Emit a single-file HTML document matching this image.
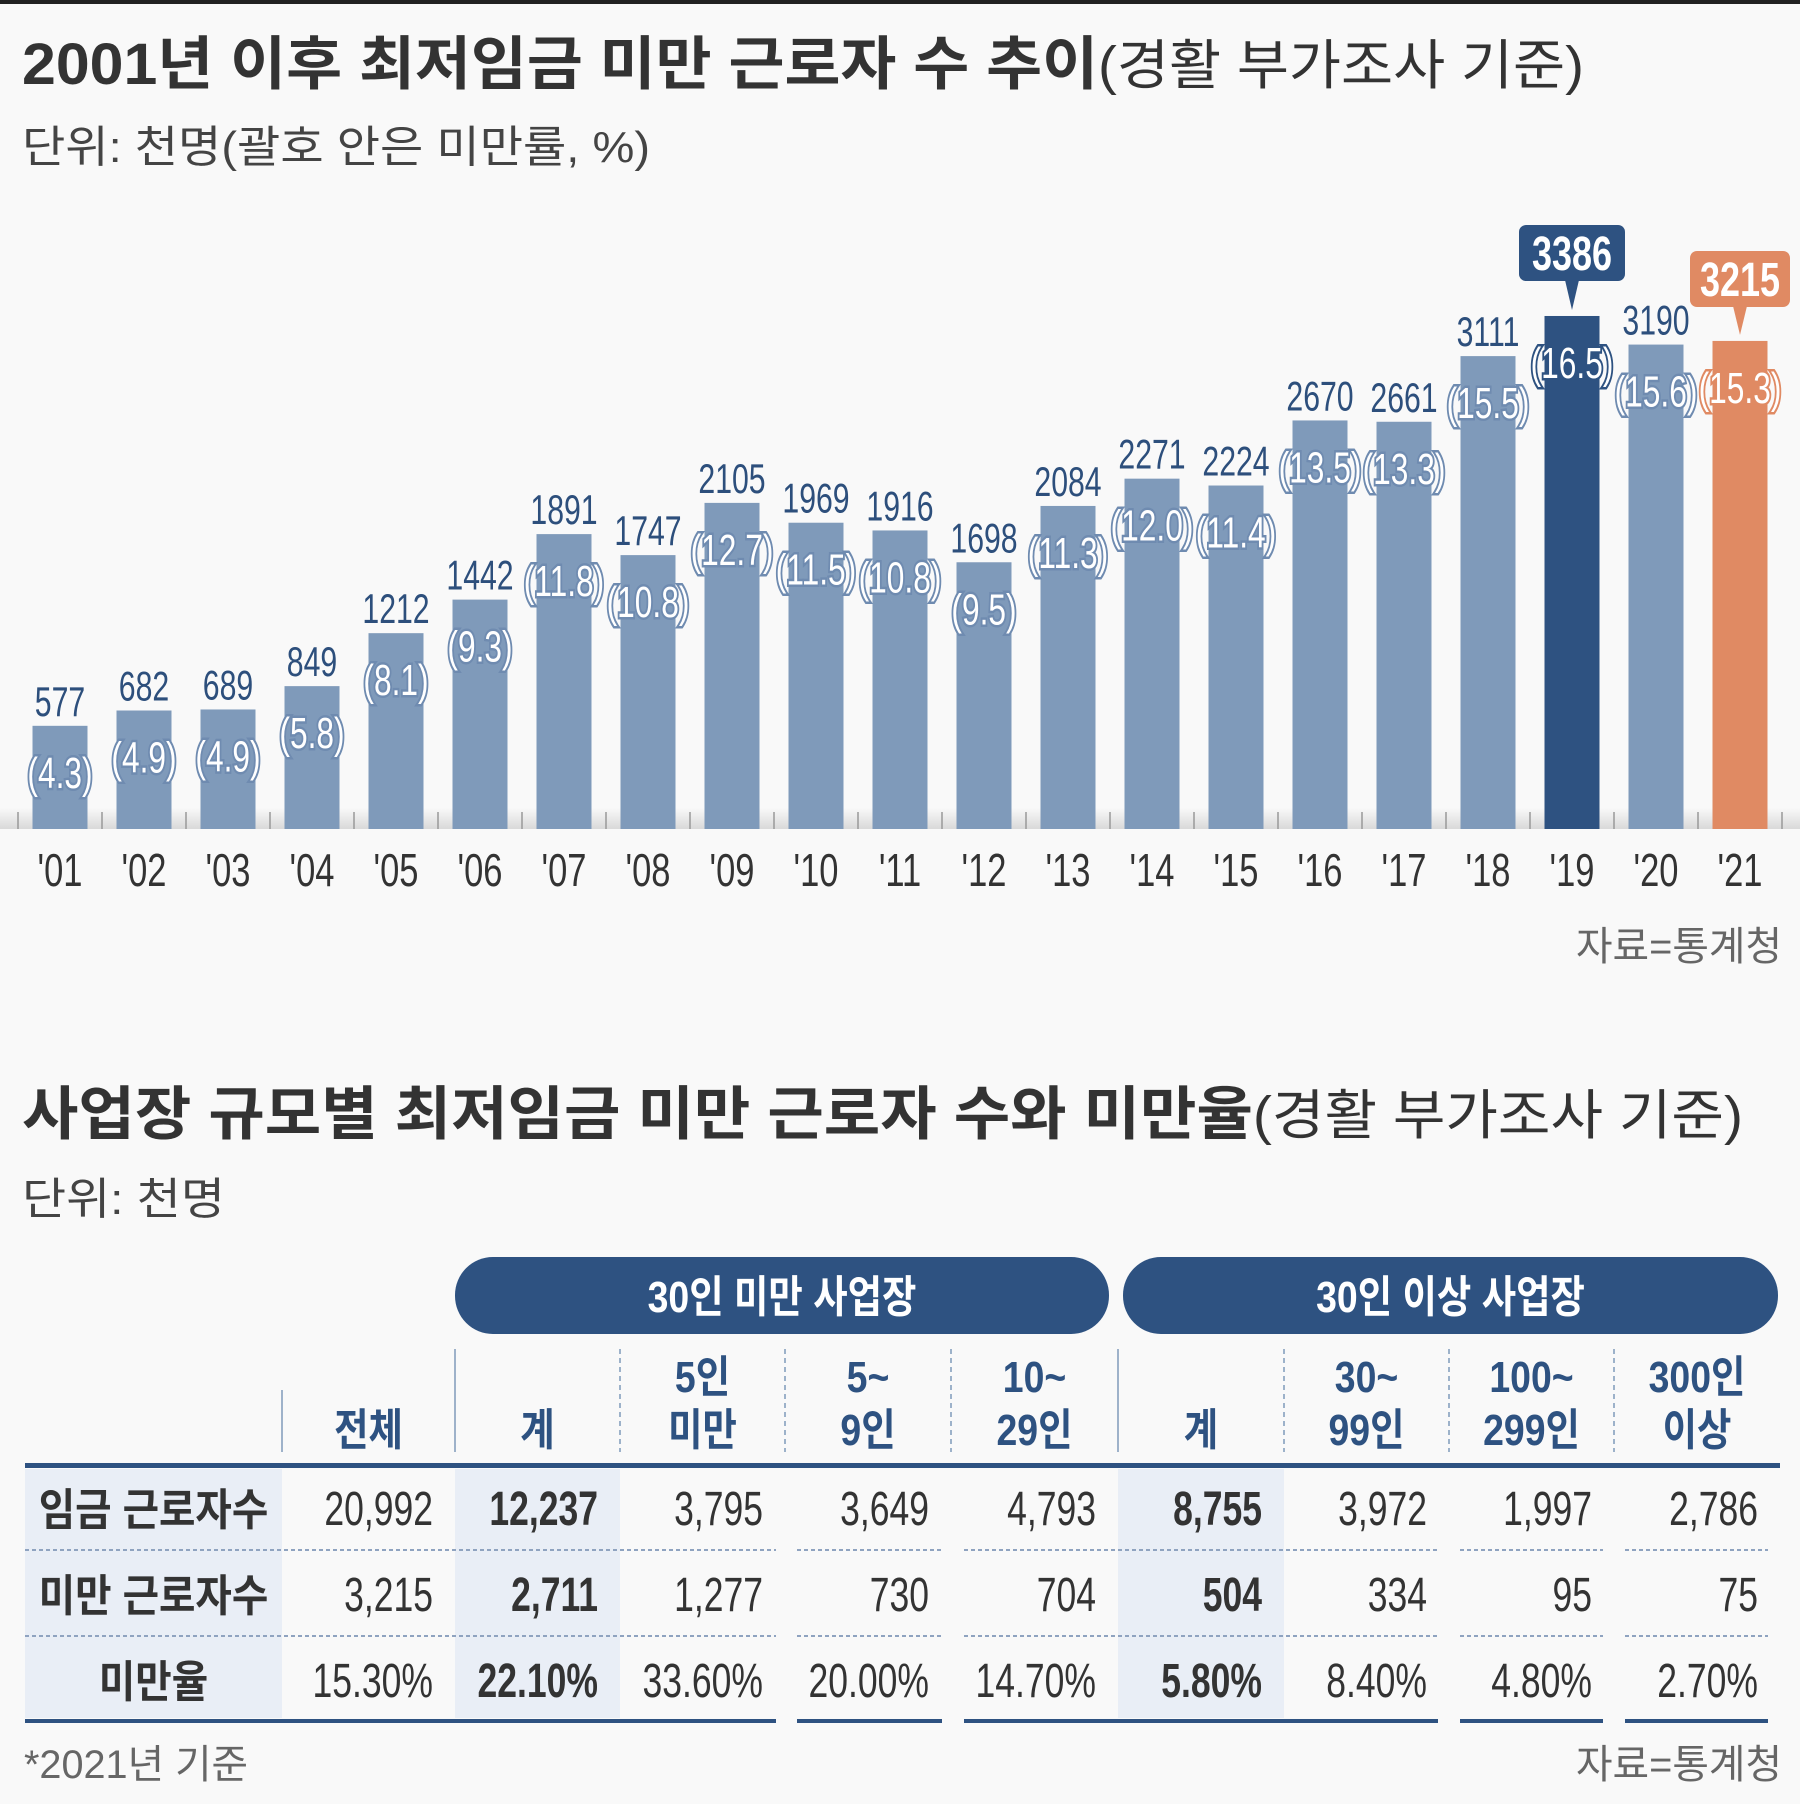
<!DOCTYPE html>
<html><head><meta charset="utf-8">
<style>
html,body{margin:0;padding:0;background:#f9f9f9;}
svg{display:block;}
.kr{font-family:"Liberation Sans","Noto Sans CJK KR",sans-serif;}
.num{font-family:"Liberation Sans","Noto Sans CJK KR",sans-serif;}
</style></head>
<body>
<svg id="chart" width="1800" height="1804" viewBox="0 0 1800 1804" xmlns="http://www.w3.org/2000/svg">
<rect x="0" y="0" width="1800" height="1804" fill="#f9f9f9"/>
<rect x="0" y="0" width="1800" height="4" fill="#222"/>
<text x="22" y="84" class="kr" font-size="58" fill="#333" textLength="1562" lengthAdjust="spacingAndGlyphs"><tspan font-weight="bold">2001년 이후 최저임금 미만 근로자 수 추이</tspan><tspan font-size="54">(경활 부가조사 기준)</tspan></text>
<text x="22" y="162" class="kr" font-size="44" fill="#444" textLength="628" lengthAdjust="spacingAndGlyphs">단위: 천명(괄호 안은 미만률, %)</text>
<defs><linearGradient id="grd" x1="0" y1="0" x2="0" y2="1"><stop offset="0" stop-color="#f9f9f9"/><stop offset="1" stop-color="#d9d9d9"/></linearGradient></defs>
<rect x="0" y="808" width="1800" height="21" fill="url(#grd)"/>
<g id="bars"></g>
<text x="1782" y="960" text-anchor="end" class="kr" font-size="40" fill="#666" textLength="206" lengthAdjust="spacingAndGlyphs">자료=통계청</text>

<text x="22" y="1134" class="kr" font-size="58" fill="#333" textLength="1721" lengthAdjust="spacingAndGlyphs"><tspan font-weight="bold">사업장 규모별 최저임금 미만 근로자 수와 미만율</tspan><tspan font-size="54">(경활 부가조사 기준)</tspan></text>
<text x="22" y="1214" class="kr" font-size="44" fill="#444" textLength="203" lengthAdjust="spacingAndGlyphs">단위: 천명</text>
<g id="table"></g>
<text x="24" y="1778" class="kr" font-size="40" fill="#666" textLength="224" lengthAdjust="spacingAndGlyphs">*2021년 기준</text>
<text x="1782" y="1778" text-anchor="end" class="kr" font-size="40" fill="#666" textLength="206" lengthAdjust="spacingAndGlyphs">자료=통계청</text>
</svg>
<script>
const years = ["'01","'02","'03","'04","'05","'06","'07","'08","'09","'10","'11","'12","'13","'14","'15","'16","'17","'18","'19","'20","'21"];
const counts = [577,682,689,849,1212,1442,1891,1747,2105,1969,1916,1698,2084,2271,2224,2670,2661,3111,3386,3190,3215];
const rates = ["4.3","4.9","4.9","5.8","8.1","9.3","11.8","10.8","12.7","11.5","10.8","9.5","11.3","12.0","11.4","13.5","13.3","15.5","16.5","15.6","15.3"];

const NS="http://www.w3.org/2000/svg";
function mk(tag,attrs,parent){const e=document.createElementNS(NS,tag);for(const k in attrs)e.setAttribute(k,attrs[k]);parent.appendChild(e);return e;}
function ntext(parent,x,y,sx,attrs){attrs.x=0;attrs.y=0;attrs.transform=`translate(${x},${y}) scale(${sx},1)`;return mk('text',attrs,parent);}
const base=829, x0=60, step=84, bw=55;
const xPos=i=>x0+i*step;
const hOf=v=>19+v*0.1459;
const g=document.getElementById('bars');
for(let i=0;i<=years.length;i++){
  const t=mk('line',{x1:xPos(i)-step/2,x2:xPos(i)-step/2,y1:812,y2:829,stroke:'#999','stroke-width':1.5},g);
  
  
}
years.forEach((y,i)=>{
  const v=counts[i], h=hOf(v), top=base-h, cx=xPos(i);
  const special = i===18 ? 'hi' : (i===20 ? 'last' : '');
  const col = i===18 ? '#2e5281' : (i===20 ? '#e08a63' : '#7f9aba');
  const r=mk('rect',{x:cx-bw/2,y:top,width:bw,height:h,fill:col},g);
  
  
  const pt=ntext(g,cx,top+62,0.72,{'text-anchor':'middle','font-size':44,fill:'#fff',stroke:col==='#7f9aba'?'#6f8bb0':col,'stroke-width':5,'paint-order':'stroke',class:'num'});
  pt.textContent='('+rates[i]+')';
  
  
  if(special){
    const bc = col;
    const bx = special==='hi'? cx-53 : cx-50, by = special==='hi'? 225: 251, bwid= special==='hi'?106:100, bh=56;
    const b=mk('rect',{x:bx,y:by,width:bwid,height:bh,rx:7,fill:bc},g);
    
    
    const p=mk('polygon',{points:`${cx-7},${by+bh-1} ${cx+7},${by+bh-1} ${cx},${top-6}`,fill:bc},g);
    
    
    const ct=ntext(g,cx,by+45,0.75,{'text-anchor':'middle','font-size':48,'font-weight':'bold',fill:'#fff',class:'num'});
    ct.textContent=v;
    
    
  } else {
    const vt=ntext(g,cx,top-10,0.72,{'text-anchor':'middle','font-size':42,fill:'#2d4f7c',class:'num'});
    vt.textContent=v;
    
    
  }
  const xl=ntext(g,cx,886,0.75,{'text-anchor':'middle','font-size':46,fill:'#333',class:'num'});
  xl.textContent=y;
  
  
});

// table
const colEdges=[25,282,455,620,785,951,1118,1284,1449,1614,1780];
const headers=[["","전체"],["","계"],["5인","미만"],["5~","9인"],["10~","29인"],["","계"],["30~","99인"],["100~","299인"],["300인","이상"]];
const rowLabels=["임금 근로자수","미만 근로자수","미만율"];
const rowWage=["20,992","12,237","3,795","3,649","4,793","8,755","3,972","1,997","2,786"];
const rowUnder=["3,215","2,711","1,277","730","704","504","334","95","75"];
const rowRate=["15.30%","22.10%","33.60%","20.00%","14.70%","5.80%","8.40%","4.80%","2.70%"];
const rows=[rowWage,rowUnder,rowRate];
const T=document.getElementById('table');
const boldCols=[1,5];
[[0,1],[2,3],[6,7]].forEach(([a,b])=>{
  const s=mk('rect',{x:colEdges[a],y:1469,width:colEdges[b]-colEdges[a],height:249,fill:'#e9eef6'},T);
  
  
});
[[455,1109,'30인 미만 사업장'],[1123,1778,'30인 이상 사업장']].forEach(([a,b,t])=>{
  const p=mk('rect',{x:a,y:1257,width:b-a,height:77,rx:38,fill:'#2e5281'},T);
  
  
  const tx=ntext(T,(a+b)/2,1312,0.85,{'text-anchor':'middle','font-size':44,'font-weight':'bold',fill:'#fff',class:'kr'});
  tx.textContent=t;
  
  
});
for(let c=1;c<colEdges.length-1;c++){
  const solid=[1,2,6].includes(c);
  const y1 = c===1?1390:1349;
  const l=mk('line',{x1:colEdges[c],x2:colEdges[c],y1:y1,y2:1452,stroke:'#7f9aba','stroke-width':1.5,'stroke-dasharray':solid?'':'5,4'},T);
  
  
}
headers.forEach((h,i)=>{
  const cx=(colEdges[i+1]+colEdges[i+2])/2;
  h.forEach((s,k)=>{
    if(!s)return;
    const t=ntext(T,cx,k===0?1392:1445,0.85,{'text-anchor':'middle','font-size':44,'font-weight':'bold',fill:'#2e5281',class:'kr'});
    t.textContent=s;
    
    
  });
});
const hl=mk('rect',{x:25,y:1463,width:1755,height:5,fill:'#2e5281'},T);


const rowY=[1525,1611,1697];
rows.forEach((row,r)=>{
  const lt=ntext(T,(colEdges[0]+colEdges[1])/2,rowY[r],0.9,{'text-anchor':'middle','font-size':44,'font-weight':'bold',fill:'#333',class:'kr'});
  lt.textContent=rowLabels[r];
  
  
  row.forEach((v,i)=>{
    const t=ntext(T,colEdges[i+2]-22,rowY[r],0.74,{'text-anchor':'end','font-size':48,fill:'#333',class:'num'});
    if(boldCols.includes(i))t.setAttribute('font-weight','bold');
    t.textContent=v;
    
    
  });
});
const segs=[[25,776],[797,942],[964,1438],[1460,1603],[1625,1768]];
[1550,1636].forEach(y=>{
  segs.forEach(([a,b])=>{
    const l=mk('line',{x1:a,x2:b,y1:y,y2:y,stroke:'#8fa3c0','stroke-width':2,'stroke-dasharray':'4,3'},T);
    
    
  });
});
segs.forEach(([a,b])=>{
  const l=mk('rect',{x:a,y:1719,width:b-a,height:4,fill:'#2e5281'},T);
  
  
});
</script>
</body></html>
